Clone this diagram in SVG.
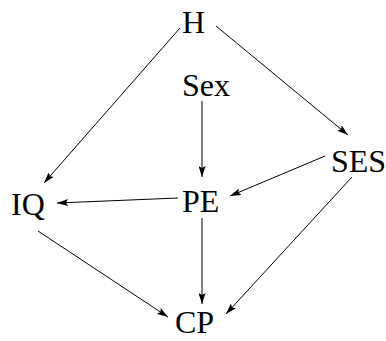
<svg xmlns="http://www.w3.org/2000/svg" width="386" height="341" viewBox="0 0 386 341">
<defs>
<marker id="ah" markerWidth="11" markerHeight="7" refX="11" refY="3.5" orient="auto" markerUnits="userSpaceOnUse">
<path d="M0,0 L11,3.5 L0,7 L2,3.5 z" fill="#000"/>
</marker>
<style>
text{font-family:"Liberation Serif","Times New Roman",serif;font-size:32px;fill:#000}
.e line{stroke:#000;stroke-width:1;marker-end:url(#ah)}
</style>
</defs>
<rect width="386" height="341" fill="#fff"/>
<g class="e" id="edges">
<line x1="180" y1="28" x2="44" y2="183"/>
<line x1="216" y1="26" x2="348" y2="135"/>
<line x1="202" y1="101" x2="202" y2="177"/>
<line x1="325" y1="156" x2="230" y2="196"/>
<line x1="178" y1="198" x2="57" y2="203"/>
<line x1="202" y1="218" x2="202" y2="304"/>
<line x1="38" y1="231" x2="168" y2="317"/>
<line x1="352" y1="177" x2="226" y2="314"/>
</g>
<g id="H"><text x="182" y="33">H</text></g>
<g id="Sex"><text x="182" y="96">Sex</text></g>
<g id="SES"><text x="331" y="172">SES</text></g>
<g id="IQ"><text x="11" y="215">IQ</text></g>
<g id="PE"><text x="182" y="212">PE</text></g>
<g id="CP"><text x="175" y="333">CP</text></g>
</svg>
